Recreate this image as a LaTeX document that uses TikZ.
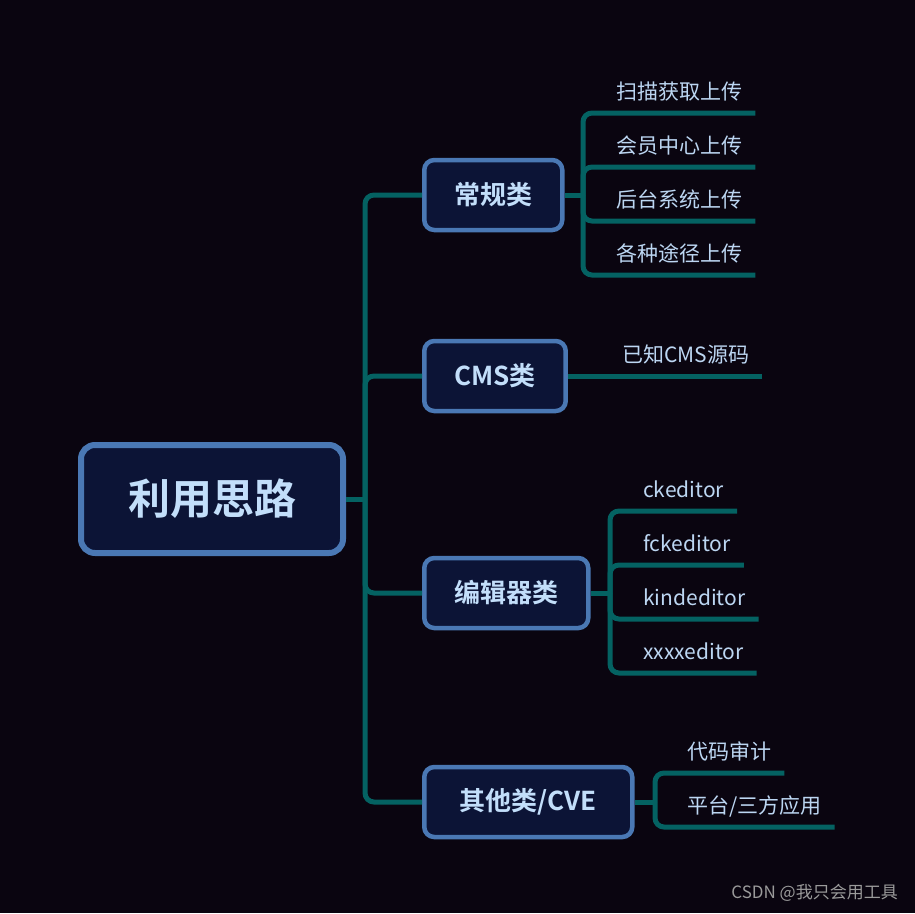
\documentclass[tikz,border=0pt]{standalone}
\usepackage{fontspec}
\setmainfont{Noto Sans CJK SC}[BoldFont={Noto Sans CJK SC Bold}]
\definecolor{bgdark}{HTML}{0A0510}
\definecolor{boxfill}{HTML}{0C1436}
\definecolor{boxline}{HTML}{4A78B4}
\definecolor{boxtext}{HTML}{C2DEFA}
\definecolor{leaftext}{HTML}{BCD6F2}
\definecolor{linkteal}{HTML}{046262}
\definecolor{markgray}{HTML}{9A9A9A}

\begin{document}
\begin{tikzpicture}[x=1pt,y=-1pt,
	topic/.style={draw=boxline, fill=boxfill, line width=4.5pt, rounded corners=10pt, text=boxtext, font=\bfseries\fontsize{26}{26}\selectfont, inner xsep=30pt, minimum height=70pt, anchor=west},
	roottopic/.style={topic, line width=6pt, rounded corners=14pt, font=\bfseries\fontsize{42}{42}\selectfont, inner xsep=47pt, minimum height=108pt, anchor=center},
	leaf/.style={text=leaftext, font=\fontsize{21}{21}\selectfont, inner sep=0pt, anchor=base west},
	link/.style={draw=linkteal, line width=5pt, rounded corners=9pt}]
		\fill[bgdark] (0,0) rectangle (915,913);
		\useasboundingbox (0,0) rectangle (915,913);
		\node[roottopic] (root) at (212,499) {利用思路};
		\node[topic] (normal) at (422,195) {常规类};
		\node[topic] (cms) at (422,376) {CMS类};
		\node[topic] (editor) at (422,593) {编辑器类};
		\node[topic, minimum width=208pt] (other) at (422,802) {其他类/CVE};
		\node[leaf] (scan) at (616,99) {扫描获取上传};
		\node[leaf] (member) at (616,153) {会员中心上传};
		\node[leaf] (admin) at (616,207) {后台系统上传};
		\node[leaf] (anyway) at (616,261) {各种途径上传};
		\node[leaf] (cmssrc) at (622,362) {已知CMS源码};
		\node[leaf] (ck) at (643,497) {ckeditor};
		\node[leaf] (fck) at (643,551) {fckeditor};
		\node[leaf] (kind) at (643,605) {kindeditor};
		\node[leaf] (xxxx) at (643,659) {xxxxeditor};
		\node[leaf] (audit) at (687,759) {代码审计};
		\node[leaf] (platform) at (687,813) {平台/三方应用};
		\node[text=markgray, font=\fontsize{17}{17}\selectfont, inner sep=0pt, anchor=base east] (mark) at (898,898) {CSDN @我只会用工具};
		\coordinate (trunk) at (365,499);
		\coordinate (normalspine) at (583,195);
		\coordinate (editorspine) at (610,593);
		\coordinate (otherspine) at (655,802);
		\draw[link] (root.east) -- (trunk);
		\foreach \t in {normal,cms,editor,other}
			\draw[link] (trunk) |- (\t.west);
		\draw[link] (normal.east) -- (normalspine);
		\foreach \l in {scan,member,admin,anyway}
			\draw[link] (normalspine) |- ([xshift=13pt,yshift=-14pt]\l.base east);
		\draw[link] (cms.east) -- ([xshift=13pt,yshift=-14pt]cmssrc.base east);
		\draw[link] (editor.east) -- (editorspine);
		\foreach \l in {ck,fck,kind,xxxx}
			\draw[link] (editorspine) |- ([xshift=13pt,yshift=-14pt]\l.base east);
		\draw[link] (other.east) -- (otherspine);
		\foreach \l in {audit,platform}
			\draw[link] (otherspine) |- ([xshift=13pt,yshift=-14pt]\l.base east);
	\end{tikzpicture}
\end{document}
